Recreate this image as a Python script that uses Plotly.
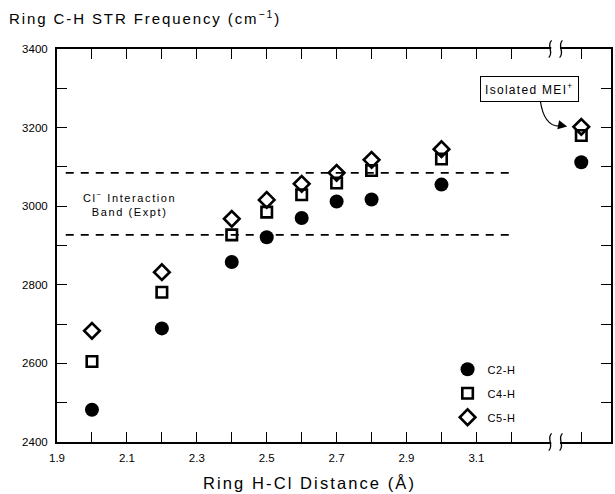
import plotly.graph_objects as go

# ---- data ----
distance = [2.0, 2.2, 2.4, 2.5, 2.6, 2.7, 2.8, 3.0]
c2h = [2482, 2689, 2858, 2921, 2970, 3012, 3017, 3055]
c4h = [2605, 2781, 2927, 2985, 3029, 3059, 3091, 3120]
c5h = [2683, 2832, 2968, 3016, 3057, 3085, 3118, 3145]

isolated_x = 3.4          # position of "isolated" column beyond the axis break
isolated_c2h = 3112
isolated_c4h = 3180
isolated_c5h = 3202

band_low = 2927
band_high = 3085
band_x = [1.925, 3.205]

x_ticks = [1.9, 2.0, 2.1, 2.2, 2.3, 2.4, 2.5, 2.6, 2.7, 2.8, 2.9, 3.0, 3.1, 3.2, 3.4]
x_labels = ["1.9", "", "2.1", "", "2.3", "", "2.5", "", "2.7", "", "2.9", "", "3.1", "", ""]
y_ticks = list(range(2400, 3401, 100))
y_labels = [str(v) if v % 200 == 0 else "" for v in y_ticks]

break_x = [3.311, 3.342]

FONT = "Liberation Sans, Arial, sans-serif"


def spaced(s, px):
    return f'<span style="letter-spacing:{px}px">{s}</span>'


fig = go.Figure()

for ys, iso, name, sym, size, lw in [
    (c2h, isolated_c2h, "C2-H", "circle", 14, 0),
    (c4h, isolated_c4h, "C4-H", "square-open", 10.5, 2.6),
    (c5h, isolated_c5h, "C5-H", "diamond-open", 12, 2.6),
]:
    fig.add_trace(go.Scatter(
        x=distance + [isolated_x], y=ys + [iso], mode="markers",
        name=spaced(name, 0.6), legendgroup=name,
        marker=dict(symbol=sym, size=size, color="black",
                    line=dict(color="black", width=lw)),
    ))

for yv in (band_low, band_high):
    fig.add_trace(go.Scatter(
        x=band_x, y=[yv, yv], mode="lines", showlegend=False, hoverinfo="skip",
        line=dict(color="black", width=1.8, dash="8px,7px"),
    ))

# axis-break marks
shapes = []
for yp in (0.0, 1.0):
    shapes.append(dict(type="rect", xref="x", yref="paper",
                       x0=break_x[0] + 0.003, x1=break_x[1] - 0.003,
                       y0=yp - 0.008, y1=yp + 0.008,
                       fillcolor="white", line=dict(width=0), layer="above"))
    for bx in break_x:
        d = 0.012
        shapes.append(dict(
            type="path", xref="x", yref="paper", layer="above",
            path=f"M {bx - 0.004},{yp - 0.022} C {bx + d},{yp - 0.008} {bx - d},{yp + 0.008} {bx + 0.004},{yp + 0.022}",
            line=dict(color="black", width=1.3),
        ))

# curved arrow from label to isolated points
shapes.append(dict(
    type="path", xref="x", yref="y", layer="above",
    path="M 3.2826,3269 Q 3.294,3198 3.345,3204",
    line=dict(color="black", width=1.2),
))

annotations = [
    dict(text=spaced("Ring C-H STR Frequency (cm<sup>−1</sup>)", 1.9), xref="paper", yref="paper",
         x=-0.09, y=1.08, xanchor="left", yanchor="middle", showarrow=False,
         font=dict(size=15, family=FONT, color="black")),
    dict(text=spaced("Ring H-Cl Distance (Å)", 2.1), xref="paper", yref="paper",
         x=0.455, y=-0.105, xanchor="center", yanchor="middle", showarrow=False,
         font=dict(size=16.5, family=FONT, color="black")),
    dict(text=spaced("Cl<sup>−</sup> Interaction", 1.6) + "<br>" + spaced("Band (Expt)", 1.6),
         xref="x", yref="y", x=2.108, y=3006, showarrow=False, align="center",
         font=dict(size=11, family=FONT, color="black")),
    dict(text=spaced("Isolated MEI<sup>+</sup>", 1.3), xref="x", yref="y",
         x=3.251, y=3299, showarrow=False, bordercolor="black", borderwidth=1,
         borderpad=4, bgcolor="white",
         font=dict(size=12, family=FONT, color="black")),
    dict(text="", xref="x", yref="y", x=3.3596, y=3202.5, ax=-10, ay=-2,
         showarrow=True, arrowhead=2, arrowsize=1.4,
         arrowwidth=1.3, arrowcolor="black"),
]

fig.update_layout(
    width=615, height=494,
    margin=dict(l=57, r=2, t=49, b=52),
    paper_bgcolor="white", plot_bgcolor="white",
    font=dict(family=FONT, color="black", size=12),
    shapes=shapes, annotations=annotations,
    showlegend=True,
    legend=dict(x=0.705, y=0.222, xanchor="left", yanchor="top",
                bgcolor="rgba(0,0,0,0)", tracegroupgap=5,
                font=dict(size=11, family=FONT, color="black")),
)
fig.update_xaxes(range=[1.9, 3.485], tickmode="array", tickvals=x_ticks, ticktext=x_labels,
                 ticks="inside", ticklen=10, tickwidth=1.2, tickcolor="black",
                 showline=True, linecolor="black", linewidth=2, mirror="ticks",
                 showgrid=False, zeroline=False, tickfont=dict(size=11.5),
                 ticklabelstandoff=4)
fig.update_yaxes(range=[2400, 3400], tickmode="array", tickvals=y_ticks, ticktext=y_labels,
                 ticks="inside", ticklen=10, tickwidth=1.2, tickcolor="black",
                 showline=True, linecolor="black", linewidth=2, mirror="ticks",
                 showgrid=False, zeroline=False, tickfont=dict(size=11.5),
                 ticklabelstandoff=5)

fig.write_html("out.html", config={"displayModeBar": False},
               post_script="document.body.style.margin='0';document.body.style.overflow='hidden';")
